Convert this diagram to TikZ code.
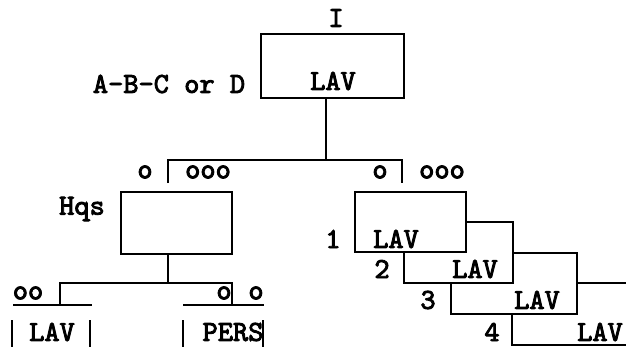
\documentclass[tikz,border=0pt]{standalone}
\usepackage{fontspec}
\newfontfamily\typer[FakeBold=3]{lmmono10-regular.otf}

\tikzset{unit/.style={draw, fill=white, rectangle, inner sep=0pt},
    tag/.style={inner sep=0pt, font=\fontsize{29}{29}\typer}}

\begin{document}
\begin{tikzpicture}[x=1pt, y=-1pt, line width=2.6pt]
\clip (0,0) rectangle (626,346);
\node[unit, minimum width=143pt, minimum height=64pt] (div) at (332.5,66) {};
\node[unit, minimum width=111pt, minimum height=62pt] (hqs) at (176.5,223) {};
\node[unit, minimum width=148pt, minimum height=62pt] (co4) at (586,314) {};
\node[unit, minimum width=126pt, minimum height=61pt] (co3) at (514,283.5) {};
\node[unit, minimum width=109pt, minimum height=61pt] (co2) at (458.5,252.5) {};
\node[unit, minimum width=111pt, minimum height=60pt] (co1) at (410.5,222) {};
\node[tag] (divname) at (336,18) {I};
\node[tag] (divlav) at (333,81) {LAV};
\node[tag] (divtype) at (169,84) {A-B-C or D};
\node[tag] (hqsname) at (82,209) {Hqs};
\node[tag] (hqsoff) at (145,172) {o};
\node[tag] (hqsmen) at (208,172) {ooo};
\node[tag] (cooff) at (380,172) {o};
\node[tag] (comen) at (442,172) {ooo};
\node[tag] (n1) at (333,239) {1};
\node[tag] (lav1) at (396,239) {LAV};
\node[tag] (n2) at (382,269) {2};
\node[tag] (lav2) at (475,269) {LAV};
\node[tag] (n3) at (428,300) {3};
\node[tag] (lav3) at (537,300) {LAV};
\node[tag] (n4) at (492,332) {4};
\node[tag] (lav4) at (600,332) {LAV};
\node[tag] (secoff) at (28,293) {oo};
\node[tag] (perscoff) at (224,293) {o};
\node[tag] (persmen) at (256,293) {o};
\node[tag] (seclav) at (52,332) {LAV};
\node[tag] (pers) at (233,332) {PERS};
\coordinate (j1) at (326,160);
\coordinate (barL) at (168,160);
\coordinate (barR) at (402,160);
\coordinate (tickL) at (168,183);
\coordinate (tickR) at (402,183);
\coordinate (j2) at (168,283);
\coordinate (barLL) at (60,283);
\coordinate (barLR) at (232,283);
\coordinate (tickLL) at (60,305);
\coordinate (tickLR) at (232,305);
\draw (div.south -| j1) -- (j1);
\draw (tickL) -- (barL) -- (barR) -- (tickR);
\draw (hqs.south -| j2) -- (j2);
\draw (tickLL) -- (barLL) -- (barLR) -- (tickLR);
\draw (13,305) -- (92,305) (12,320) -- (12,350) (90,320) -- (90,350);
\draw (183,305) -- (264,305) (183,320) -- (183,350) (263,320) -- (263,350);
\end{tikzpicture}
\end{document}
